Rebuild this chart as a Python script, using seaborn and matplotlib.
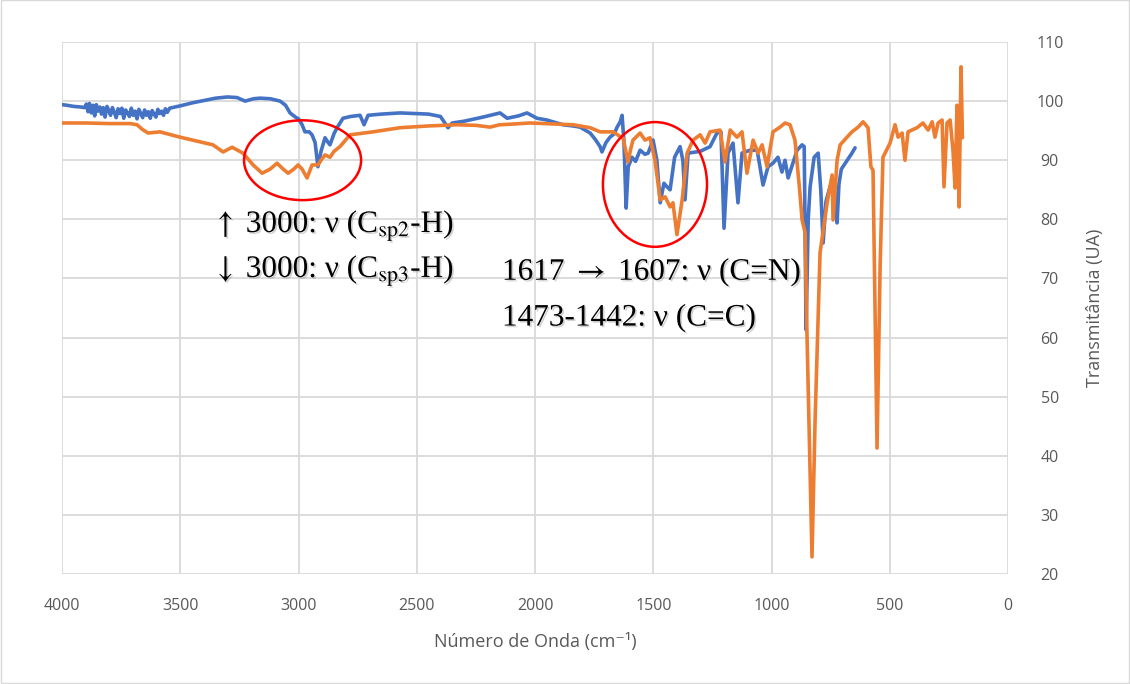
import matplotlib
matplotlib.use("Agg")
import matplotlib.pyplot as plt
from matplotlib.patches import Ellipse, Rectangle
import matplotlib.patheffects as pe
import numpy as np
import pandas as pd
import seaborn as sns

# espectro azul (número de onda, transmitância)
blue_wn = [4000, 3980, 3950, 3920, 3905, 3897, 3890, 3884, 3876, 3869, 3862, 3855,
           3848, 3840, 3833, 3826, 3818, 3810, 3802, 3795, 3787, 3779, 3771, 3763,
           3755, 3747, 3739, 3731, 3723, 3715, 3707, 3699, 3691, 3683, 3675, 3667,
           3659, 3651, 3643, 3635, 3627, 3619, 3611, 3603, 3595, 3587, 3579, 3571,
           3563, 3555, 3545, 3500, 3450, 3400, 3350,
           3300, 3260, 3226, 3190, 3163, 3120, 3078, 3055, 3036, 3010, 3000, 2985,
           2973, 2955, 2943, 2930, 2918, 2905, 2888, 2875, 2867, 2850, 2837, 2812,
           2780, 2740, 2723, 2706, 2650, 2571, 2450, 2400, 2368, 2350, 2300, 2220,
           2148, 2118, 2070, 2034, 1992, 1950, 1882, 1840, 1810, 1767, 1745, 1725,
           1717, 1700, 1683, 1665, 1653, 1640, 1632, 1624, 1615, 1606, 1590, 1575,
           1556, 1535, 1522, 1501, 1485, 1471, 1455, 1442, 1429, 1410, 1387, 1375,
           1366, 1353, 1302, 1260, 1231, 1214, 1201, 1184, 1163, 1142, 1125, 1091,
           1061, 1036, 1015, 994, 973, 956, 943, 930, 892, 871, 862, 854, 845, 837,
           820, 803, 792, 782, 770, 753, 740, 730, 723, 715, 705, 680, 660, 647]
blue_t = [99.4, 99.3, 99.1, 99.0, 98.9, 99.5, 98.2, 99.6, 98.0, 99.3, 97.5, 99.4,
          98.3, 99.0, 97.8, 98.9, 97.3, 99.1, 98.4, 97.6, 98.9, 98.1, 97.2, 98.7,
          97.9, 98.8, 97.1, 98.5, 98.0, 97.4, 98.8, 97.6, 98.3, 97.0, 98.6, 97.9,
          97.2, 98.5, 97.6, 98.2, 97.1, 98.4, 97.8, 97.3, 98.6, 97.9, 98.3, 97.6,
          98.7, 98.1, 98.8, 99.2, 99.7, 100.1, 100.5,
          100.7, 100.6, 100.0, 100.4, 100.5, 100.4, 100.0, 99.3, 98.0, 97.2, 97.0, 96.0,
          94.8, 94.8, 94.3, 93.0, 88.9, 91.5, 93.8, 93.0, 92.6, 94.5, 95.5, 97.1,
          97.4, 97.6, 96.0, 97.6, 97.8, 98.0, 97.8, 97.4, 95.5, 96.3, 96.6, 97.3,
          98.0, 97.1, 97.5, 98.0, 97.1, 96.8, 96.0, 95.8, 95.6, 94.6, 93.5, 92.3,
          91.4, 93.0, 93.9, 94.5, 95.6, 96.5, 97.6, 93.0, 81.9, 88.9, 90.5, 89.8,
          91.7, 91.0, 91.2, 93.4, 90.0, 82.8, 86.1, 85.5, 85.0, 90.5, 92.3, 90.0,
          83.3, 91.2, 91.5, 92.3, 94.6, 94.8, 78.5, 91.2, 92.9, 82.8, 91.2, 91.7,
          91.7, 85.8, 88.9, 89.5, 90.5, 88.0, 90.0, 87.0, 91.7, 92.6, 92.3, 61.3, 80.0, 85.5,
          90.5, 91.2, 85.0, 76.0, 83.0, 85.5, 86.6, 84.0, 79.4, 86.0, 88.5, 90.0, 91.2, 92.1]

# espectro laranja
orange_wn = [4000, 3900, 3800, 3712, 3683, 3660, 3636, 3586, 3501, 3416, 3362, 3319,
             3281, 3235, 3192, 3154, 3120, 3091, 3065, 3044, 3020, 3002, 2985, 2964,
             2943, 2930, 2918, 2905, 2888, 2867, 2850, 2825, 2782, 2685, 2571, 2450,
             2330, 2250, 2190, 2150, 2100, 2021, 1900, 1839, 1767, 1725, 1700, 1670,
             1640, 1628, 1607, 1595, 1586, 1556, 1535, 1514, 1493, 1471, 1450, 1429,
             1417, 1400, 1378, 1357, 1332, 1302, 1281, 1260, 1218, 1197, 1175, 1146,
             1125, 1104, 1078, 1057, 1040, 1019, 994, 964, 943, 922, 901, 880, 871,
             858, 850, 829, 816, 795, 765, 744, 740, 723, 710, 681, 660, 634, 613,
             592, 580, 571, 554, 541, 529, 499, 478, 465, 448, 436, 423, 385, 360,
             338, 321, 309, 296, 279, 271, 258, 245, 233, 224, 216, 212, 207, 199, 193]
orange_t = [96.3, 96.3, 96.2, 96.2, 96.0, 95.2, 94.6, 94.8, 93.9, 93.1, 92.6, 91.4,
            92.2, 91.2, 89.2, 87.8, 88.5, 89.5, 88.5, 87.8, 88.5, 89.2, 88.5, 87.0,
            89.2, 89.2, 89.2, 90.0, 90.9, 90.5, 91.5, 92.3, 94.3, 94.8, 95.5, 95.8,
            96.0, 95.9, 95.6, 96.0, 96.1, 96.3, 96.1, 96.0, 95.5, 94.8, 94.8, 94.8,
            94.0, 93.8, 89.7, 92.0, 93.4, 94.6, 93.4, 93.8, 90.0, 83.3, 83.8, 82.1,
            82.8, 77.4, 83.3, 91.2, 93.4, 94.3, 92.9, 94.8, 95.1, 89.7, 95.1, 93.9,
            94.8, 87.8, 93.4, 91.2, 92.6, 88.9, 94.8, 95.6, 96.3, 96.0, 93.4, 84.4, 79.9,
            77.7, 60.1, 22.9, 46.0, 74.3, 82.8, 87.5, 79.9, 90.0, 92.6, 93.9, 94.8, 95.6, 96.5,
            95.5, 88.9, 88.3, 41.3, 72.0, 90.5, 92.9, 96.0, 93.9, 94.6, 90.0, 94.8, 95.5, 96.3,
            95.1, 96.5, 93.9, 96.3, 96.8, 85.5, 96.3, 96.8, 91.7, 85.3, 99.3, 92.3, 82.1, 105.8, 93.8]

x_ticks = [4000, 3500, 3000, 2500, 2000, 1500, 1000, 500, 0]
y_ticks = [20, 30, 40, 50, 60, 70, 80, 90, 100, 110]

GRAY_TXT = "#595959"
GRID = "#d9d9d9"

sns.set_theme(style="whitegrid")
plt.rcParams.update({
    "font.family": ["Open Sans", "DejaVu Sans"],
    "mathtext.fontset": "stix",
})

df = pd.concat([
    pd.DataFrame({"wn": blue_wn, "T": blue_t, "serie": "azul"}),
    pd.DataFrame({"wn": orange_wn, "T": orange_t, "serie": "laranja"}),
])

fig = plt.figure(figsize=(11.3, 6.84), dpi=100)
ax = fig.add_axes([0.0549, 0.1608, 0.8372, 0.7778])

sns.lineplot(data=df, x="wn", y="T", hue="serie", estimator=None,
             palette={"azul": "#4472C4", "laranja": "#ED7D31"},
             linewidth=2.6, legend=False, ax=ax)

ax.set_xlim(4000, 0)
ax.set_ylim(20, 110)
ax.set_xticks(x_ticks)
ax.set_yticks(y_ticks)
ax.grid(True, color=GRID, linewidth=1.3)
for s in ax.spines.values():
    s.set_visible(False)

ax.yaxis.tick_right()
ax.yaxis.set_label_position("right")
ax.tick_params(axis="both", length=0, labelsize=11.5, labelcolor=GRAY_TXT)
ax.tick_params(axis="x", pad=17)
ax.tick_params(axis="y", pad=30)
for lab in ax.get_yticklabels():
    lab.set_ha("center")

ax.set_xlabel("Número de Onda (cm⁻¹)", fontsize=13, color=GRAY_TXT, labelpad=14)
ax.set_ylabel("Transmitância (UA)", fontsize=13, color=GRAY_TXT, labelpad=16)

# elipses vermelhas
ax.add_patch(Ellipse((2983, 90.0), 495, 13.5, fill=False, edgecolor="#FF0000", linewidth=1.8, zorder=5))
ax.add_patch(Ellipse((1493, 85.9), 440, 21.1, fill=False, edgecolor="#FF0000", linewidth=1.8, zorder=5))

# texto em serifa; setas e subscritos via mathtext (STIX)
shadow = [pe.withSimplePatchShadow(offset=(1.2, -1.2), shadow_rgbFace="gray", alpha=0.35)]
txt_kw = dict(fontsize=22.5, color="black", family="Liberation Serif", va="center", ha="left",
              path_effects=shadow, zorder=6)
ax.text(3362, 79.0, "$\\uparrow$ 3000: ν (C$_{\\mathrm{sp2}}$-H)", **txt_kw)
ax.text(3362, 71.4, "$\\downarrow$ 3000: ν (C$_{\\mathrm{sp3}}$-H)", **txt_kw)
ax.text(2140, 71.1, "1617 $\\rightarrow$ 1607: ν (C=N)", **txt_kw)
ax.text(2140, 63.3, "1473-1442: ν (C=C)", **txt_kw)

fig.patches.append(Rectangle((0.0005, 0.0008), 0.999, 0.9985, transform=fig.transFigure,
                             fill=False, edgecolor=GRID, linewidth=1))

fig.savefig("out.png", dpi=100)
